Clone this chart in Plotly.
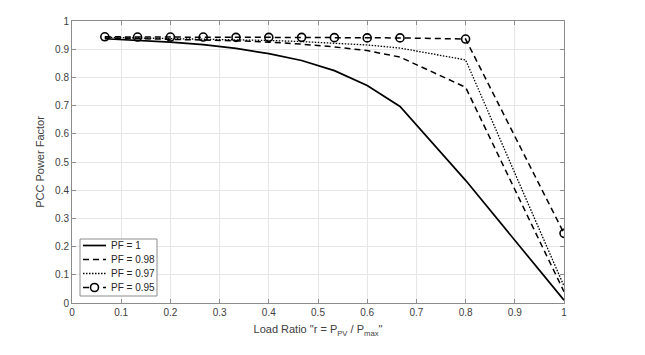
import plotly.graph_objects as go

FONT = "Liberation Sans, Arial, sans-serif"
TEXT_GRAY = "#404040"
FRAME_GRAY = "#8c8c8c"
GRID_GRAY = "#e6e6e6"

load_ratio = [0.0667, 0.1333, 0.2, 0.2667, 0.3333, 0.4, 0.4667, 0.5333, 0.6, 0.6667, 0.8, 1.0]

pf_1 = [0.937, 0.932, 0.925, 0.916, 0.903, 0.884, 0.860, 0.824, 0.771, 0.697, 0.435, 0.01]
pf_098 = [0.940, 0.938, 0.936, 0.933, 0.930, 0.925, 0.918, 0.908, 0.895, 0.872, 0.765, 0.04]
pf_097 = [0.942, 0.940, 0.939, 0.937, 0.934, 0.931, 0.927, 0.922, 0.915, 0.904, 0.862, 0.06]
pf_095 = [0.944, 0.943, 0.943, 0.943, 0.942, 0.942, 0.942, 0.941, 0.940, 0.940, 0.936, 0.247]

series_names = ["PF = 1", "PF = 0.98", "PF = 0.97", "PF = 0.95"]

tick_vals = [0, 0.1, 0.2, 0.3, 0.4, 0.5, 0.6, 0.7, 0.8, 0.9, 1]
tick_text = ["0", "0.1", "0.2", "0.3", "0.4", "0.5", "0.6", "0.7", "0.8", "0.9", "1"]

styles = [
    dict(width=1.7, dash="solid"),
    dict(width=1.5, dash="6px,4px"),
    dict(width=1.3, dash="1.5px,1.5px"),
    dict(width=1.5, dash="6px,4px"),
]

fig = go.Figure()
for name, ys, st in zip(series_names, [pf_1, pf_098, pf_097, pf_095], styles):
    with_markers = name == "PF = 0.95"
    fig.add_trace(go.Scatter(
        x=load_ratio, y=ys, name=name,
        mode="lines+markers" if with_markers else "lines",
        line=dict(color="black", **st),
        marker=dict(symbol="circle-open", size=8, color="black", line=dict(width=1.6)),
        showlegend=False,
    ))

# plot area in page pixels (page body has an 8px margin)
OFF = 8
L, R, T, B = 72, 564, 21, 303


def px(x):
    return (x - L) / (R - L)


def py(y):
    return (B - y) / (B - T)


# MATLAB-style legend box, drawn by hand so the rows stay tight
fig.add_shape(type="rect", xref="paper", yref="paper",
              x0=px(80), x1=px(157), y0=py(296), y1=py(239),
              line=dict(color=FRAME_GRAY, width=1), fillcolor="white", layer="above")

row_y = [245.5, 259.5, 273.5, 287.5]
for name, st, yy in zip(series_names, styles, row_y):
    fig.add_shape(type="line", xref="paper", yref="paper",
                  x0=px(83), x1=px(106), y0=py(yy), y1=py(yy),
                  line=dict(color="black", **st), layer="above")
    if name == "PF = 0.95":
        fig.add_shape(type="circle", xref="paper", yref="paper",
                      xsizemode="pixel", ysizemode="pixel",
                      xanchor=px(94.5), yanchor=py(yy),
                      x0=-4, x1=4, y0=-4, y1=4,
                      line=dict(color="black", width=1.6), fillcolor="white", layer="above")
    fig.add_annotation(xref="paper", yref="paper", x=px(108.5), y=py(yy),
                       xanchor="left", yanchor="middle", showarrow=False,
                       text=name, font=dict(family=FONT, size=10, color="#262626"))

axis_common = dict(
    range=[0, 1],
    tickvals=tick_vals,
    ticktext=tick_text,
    showgrid=True,
    gridcolor=GRID_GRAY,
    gridwidth=1,
    zeroline=False,
    showline=True,
    linecolor=FRAME_GRAY,
    linewidth=1,
    mirror="ticks",
    ticks="inside",
    ticklen=4,
    tickcolor=FRAME_GRAY,
    automargin=False,
    tickfont=dict(family=FONT, size=10, color=TEXT_GRAY),
)

fig.update_layout(
    width=645,
    height=355,
    margin=dict(l=L - OFF, r=645 - (R - OFF), t=T - OFF, b=355 - (B - OFF), autoexpand=False),
    paper_bgcolor="white",
    plot_bgcolor="white",
    font=dict(family=FONT, color=TEXT_GRAY),
    showlegend=False,
    xaxis=dict(
        axis_common,
        title=dict(text='Load Ratio "r = P<sub>PV</sub> / P<sub>max</sub>"',
                   font=dict(family=FONT, size=11, color=TEXT_GRAY), standoff=8),
    ),
    yaxis=dict(
        axis_common,
        title=dict(text="PCC Power Factor",
                   font=dict(family=FONT, size=11, color=TEXT_GRAY), standoff=8),
    ),
)

fig.write_html("out.html")
